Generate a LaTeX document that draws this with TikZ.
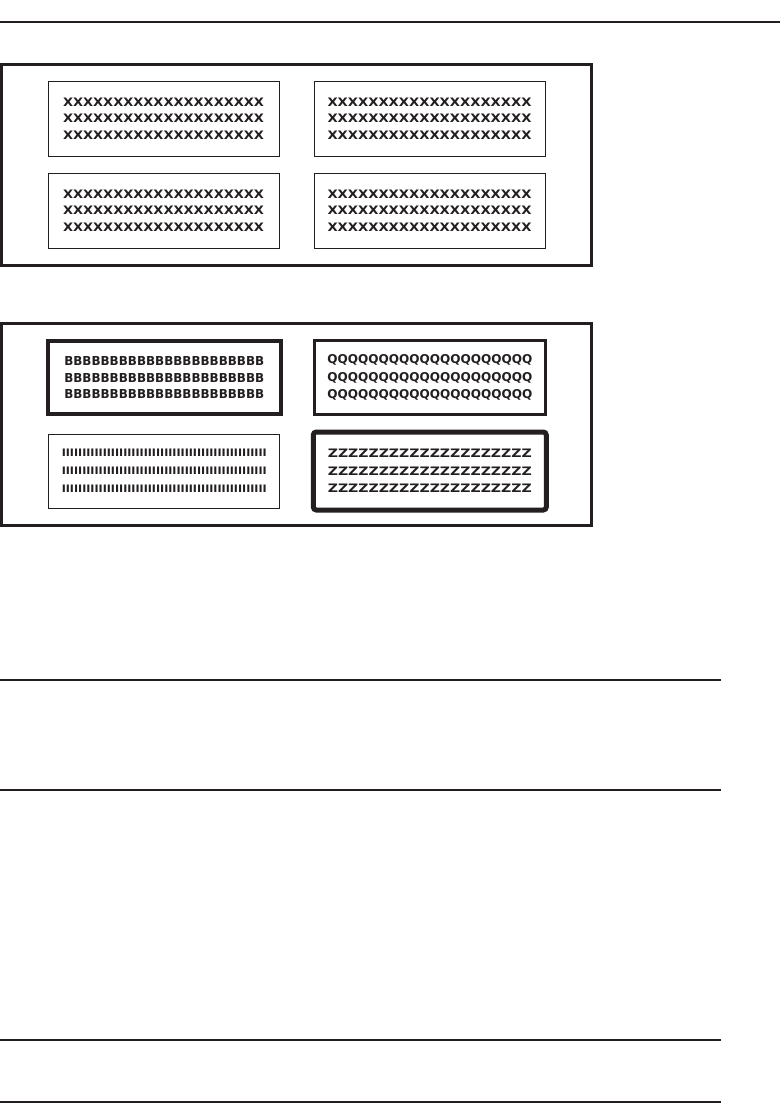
\documentclass[tikz,border=0pt]{standalone}
\usepackage{graphicx}
\usepackage{fontspec}
\usepackage{tikz}
\usetikzlibrary{positioning}
\definecolor{inkblack}{RGB}{35,31,32}
\newfontfamily\padfont{DejaVu Sans}

% 一行占位字符, 拉伸到给定宽高
\newcommand{\padline}[4]{\resizebox{#1pt}{#2pt}{\foreach \k in {1,...,#3}{#4}}}
\newcommand{\padrows}[4]{\padline{#1}{#2}{#3}{#4}\\\padline{#1}{#2}{#3}{#4}\\\padline{#1}{#2}{#3}{#4}}

\begin{document}
\begin{tikzpicture}[x=1pt,y=-1pt,
    rule/.style={draw=inkblack, line width=2pt},
    frame/.style={draw=inkblack, line width=3pt, minimum width=589.5pt, minimum height=201pt, inner sep=0pt, outer sep=0pt},
    panel/.style={draw=inkblack, line width=1pt, minimum width=231pt, minimum height=75pt, outer sep=0pt, align=center, text=inkblack,
        font=\padfont\bfseries\fontsize{8}{16.3}\selectfont},
    boldtext/.style={font=\padfont\bfseries\fontsize{8}{#1}\selectfont}]
    \useasboundingbox (0,0) rectangle (780,1103);

    \draw[draw=inkblack, line width=1.2pt] (0,22) -- (780,22); % 顶部细线

    % 第一个外框: 四个相同的面板
    \node[frame] (frameA) at (296.25,165) {};
    \node[panel] (xa) at (163.5,118.5) {\padrows{201}{8.5}{20}{X}};
    \node[panel, right=35pt of xa] (xb) {\padrows{204}{8.5}{20}{X}};
    \node[panel, below=17pt of xa] (xc) {\padrows{201}{8.5}{20}{X}};
    \node[panel, below=17pt of xb] (xd) {\padrows{204}{8.5}{20}{X}};

    % 第二个外框: 不同边框粗细
    \node[frame, minimum height=202pt] (frameB) at (296.25,424.5) {};
    \node[panel, boldtext=16.3, line width=4pt, minimum width=233pt, minimum height=73pt] (bold) at (164.3,377.5) {\padrows{200}{9}{22}{B}};
    \node[panel, boldtext=17.2, line width=2.5pt, minimum height=74pt, right=33.5pt of bold] (medium) {\padrows{205}{9}{20}{Q}};
    \node[panel, boldtext=18, minimum height=74pt, below=20pt of bold] (thin) {\padrows{205}{7.5}{50}{I}};
    \node[panel, boldtext=17.5, line width=5pt, rounded corners=3pt, minimum width=233pt, minimum height=78pt, right=33.5pt of thin] (heavy) {\padrows{204}{8.5}{20}{Z}};

    % 下方横线
    \draw[rule] (0,680) -- (721,680);
    \draw[rule] (0,790) -- (721,790);
    \draw[rule] (0,1040) -- (721,1040);
    \draw[rule] (0,1101.5) -- (721,1101.5);
\end{tikzpicture}
\end{document}
